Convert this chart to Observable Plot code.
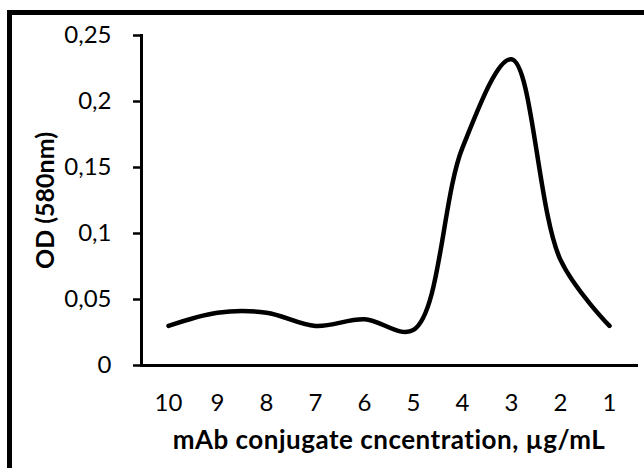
<!DOCTYPE html>
<html>
<head>
<meta charset="utf-8">
<script src="https://cdn.jsdelivr.net/npm/d3@7"></script>
<script src="https://cdn.jsdelivr.net/npm/@observablehq/plot@0.6"></script>
<style>
  html, body { margin: 0; padding: 0; background: #fff; overflow: hidden; }
  #wrap { position: relative; width: 644px; height: 468px; overflow: hidden; }
  #border { position: absolute; left: 7px; top: 10px; width: 700px; height: 520px; border: 5px solid #000; box-sizing: border-box; }
  #chart { position: absolute; left: 0; top: 0; }
</style>
</head>
<body>
<div id="wrap"><div id="border"></div><div id="chart"></div></div>
<script>
const concentrations = ["10", "9", "8", "7", "6", "5", "4", "3", "2", "1"];
const odValues = [0.03, 0.04, 0.04, 0.03, 0.035, 0.027, 0.165, 0.232, 0.08, 0.03];
const yTicks = [0, 0.05, 0.1, 0.15, 0.2, 0.25];
const yTickLabels = ["0", "0,05", "0,1", "0,15", "0,2", "0,25"];
const xTitle = "mAb conjugate cncentration, µg/mL";
const yTitle = "OD (580nm)";

const data = concentrations.map((c, i) => ({c, v: odValues[i]}));

const chart = Plot.plot({
  width: 644,
  height: 468,
  marginLeft: 141,
  marginRight: 8,
  marginTop: 35,
  marginBottom: 103,
  style: {fontFamily: "Lato", color: "#000", background: "transparent"},
  x: {type: "point", domain: concentrations, padding: 0.5, label: null},
  y: {domain: [0, 0.25], label: null},
  marks: [
    Plot.axisY({ticks: yTicks, tickFormat: d => yTickLabels[yTicks.indexOf(d)], tickSize: 8, tickPadding: 22, fontSize: 24, strokeWidth: 2.5, label: null}),
    Plot.axisX({tickSize: 0, tickPadding: 28, fontSize: 24, label: null}),
    Plot.frame({anchor: "left", strokeWidth: 3}),
    Plot.frame({anchor: "bottom", strokeWidth: 3}),
    Plot.line(data, {x: "c", y: "v", curve: "catmull-rom", stroke: "#000", strokeWidth: 4.5, strokeLinecap: "round", strokeLinejoin: "round"}),
    Plot.text([xTitle], {frameAnchor: "bottom", textAnchor: "middle", lineAnchor: "middle", dy: 75, fontSize: 26, fontWeight: "bold", fill: "#000"}),
    Plot.text([yTitle], {frameAnchor: "left", textAnchor: "middle", lineAnchor: "middle", dx: -96, rotate: -90, fontSize: 25, fontWeight: "bold", fill: "#000"})
  ]
});
d3.select(chart).selectAll("text").filter(function() { return this.textContent === xTitle; }).attr("letter-spacing", "0.5");
document.getElementById("chart").appendChild(chart);
</script>
</body>
</html>
